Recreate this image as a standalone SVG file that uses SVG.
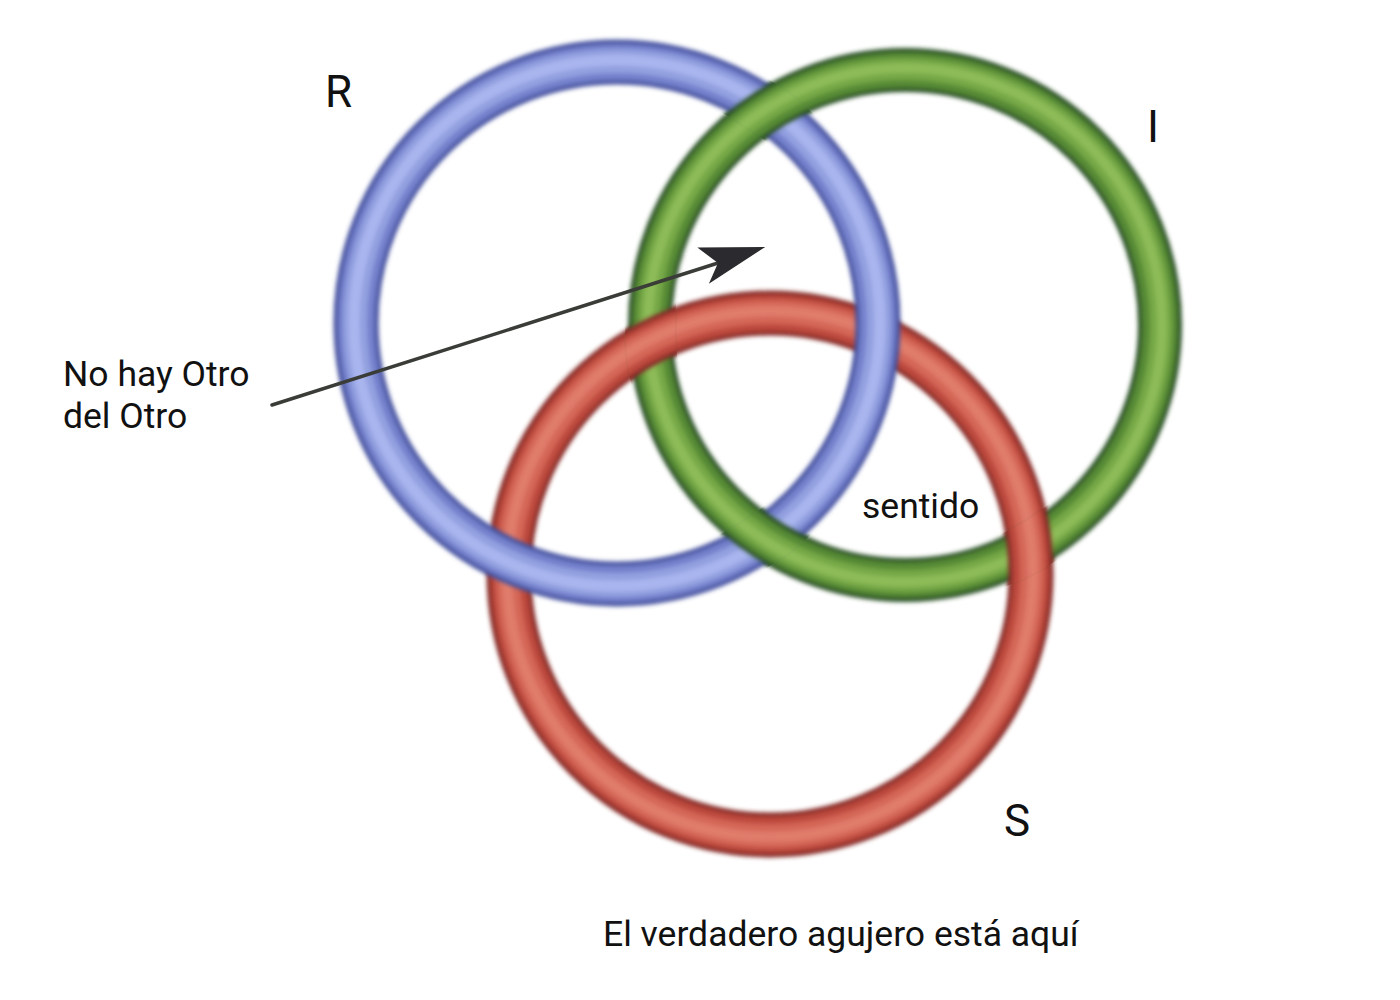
<svg xmlns="http://www.w3.org/2000/svg" xmlns:xlink="http://www.w3.org/1999/xlink" width="1400" height="1000" viewBox="0 0 1400 1000">
  <style>
    .lbl { font-family: Roboto, "Liberation Sans", sans-serif; fill: #111; }
    .big { font-size: 44px; }
    .txt { font-size: 35.5px; }
    .ring { fill: none; }
  </style>
  <defs>
    <filter id="soft" x="-10%" y="-10%" width="120%" height="120%">
      <feGaussianBlur stdDeviation="2.2"/>
    </filter>
    <g id="ringR">
      <circle class="ring" cx="617" cy="323" r="261" stroke="#45519f" stroke-width="45"/>
      <circle class="ring" cx="617" cy="323" r="261" stroke="#7481cc" stroke-width="36"/>
      <circle class="ring" cx="617" cy="323" r="262" stroke="#93a0e0" stroke-width="24"/>
      <circle class="ring" cx="617" cy="323" r="263" stroke="#a9b5ee" stroke-width="11"/>
    </g>
    <g id="ringI">
      <circle class="ring" cx="905" cy="325" r="255" stroke="#2c5128" stroke-width="44"/>
      <circle class="ring" cx="905" cy="325" r="255" stroke="#568a36" stroke-width="35"/>
      <circle class="ring" cx="905" cy="325" r="256" stroke="#76a847" stroke-width="22"/>
      <circle class="ring" cx="905" cy="325" r="257" stroke="#8dbb58" stroke-width="10"/>
    </g>
    <g id="ringS">
      <circle class="ring" cx="770" cy="574" r="261" stroke="#862a28" stroke-width="45"/>
      <circle class="ring" cx="770" cy="574" r="261" stroke="#bd4a3e" stroke-width="36"/>
      <circle class="ring" cx="770" cy="574" r="262" stroke="#d46656" stroke-width="24"/>
      <circle class="ring" cx="770" cy="574" r="263" stroke="#e07b6a" stroke-width="11"/>
    </g>
    <clipPath id="clipIoverR">
      <circle cx="766" cy="105" r="80"/>
      <circle cx="768" cy="540" r="80"/>
    </clipPath>
    <clipPath id="clipSoverI">
      <circle cx="650" cy="342" r="80"/>
      <circle cx="1030" cy="547" r="80"/>
    </clipPath>
    <clipPath id="bandR">
      <path clip-rule="evenodd" d="M330,323 a287,287 0 1,0 574,0 a287,287 0 1,0 -574,0 Z M382,323 a235,235 0 1,0 470,0 a235,235 0 1,0 -470,0 Z"/>
    </clipPath>
    <clipPath id="bandI">
      <path clip-rule="evenodd" d="M625,325 a280,280 0 1,0 560,0 a280,280 0 1,0 -560,0 Z M675,325 a230,230 0 1,0 460,0 a230,230 0 1,0 -460,0 Z"/>
    </clipPath>
    <marker id="arrowHead" markerUnits="userSpaceOnUse" viewBox="-20 -25 75 50" refX="0" refY="0" markerWidth="75" markerHeight="50" orient="auto">
      <path d="M50,-1 L-15,-21 L0,0 L-15,17 Z" fill="#2b2b2f"/>
    </marker>
  </defs>

  <rect width="1400" height="1000" fill="#ffffff"/>

  <g id="node-S" filter="url(#soft)">
    <use xlink:href="#ringS"/>
  </g>
  <g id="node-I" filter="url(#soft)">
    <use xlink:href="#ringI"/>
  </g>
  <g id="node-R" filter="url(#soft)">
    <use xlink:href="#ringR"/>
  </g>
  <!-- over-crossings: I over R, S over I -->
  <g id="node-I-over" clip-path="url(#clipIoverR)">
    <g clip-path="url(#bandR)">
      <g filter="url(#soft)"><use xlink:href="#ringI"/></g>
    </g>
  </g>
  <g id="node-S-over" clip-path="url(#clipSoverI)">
    <g clip-path="url(#bandI)">
      <g filter="url(#soft)"><use xlink:href="#ringS"/></g>
    </g>
  </g>

  <g id="connectors">
    <path d="M272,405 L718,263" fill="none" stroke="#3a3c38" stroke-width="3.5" stroke-linecap="round" marker-end="url(#arrowHead)"/>
  </g>

  <g id="labels">
    <text class="lbl big" x="325" y="107">R</text>
    <text class="lbl big" x="1147" y="142">I</text>
    <text class="lbl big" x="1004" y="836">S</text>
    <text class="lbl txt" x="63" y="386">No hay Otro</text>
    <text class="lbl txt" x="63" y="428">del Otro</text>
    <text class="lbl txt" x="862" y="518">sentido</text>
    <text class="lbl txt" x="603" y="946">El verdadero agujero está aquí</text>
  </g>
</svg>
